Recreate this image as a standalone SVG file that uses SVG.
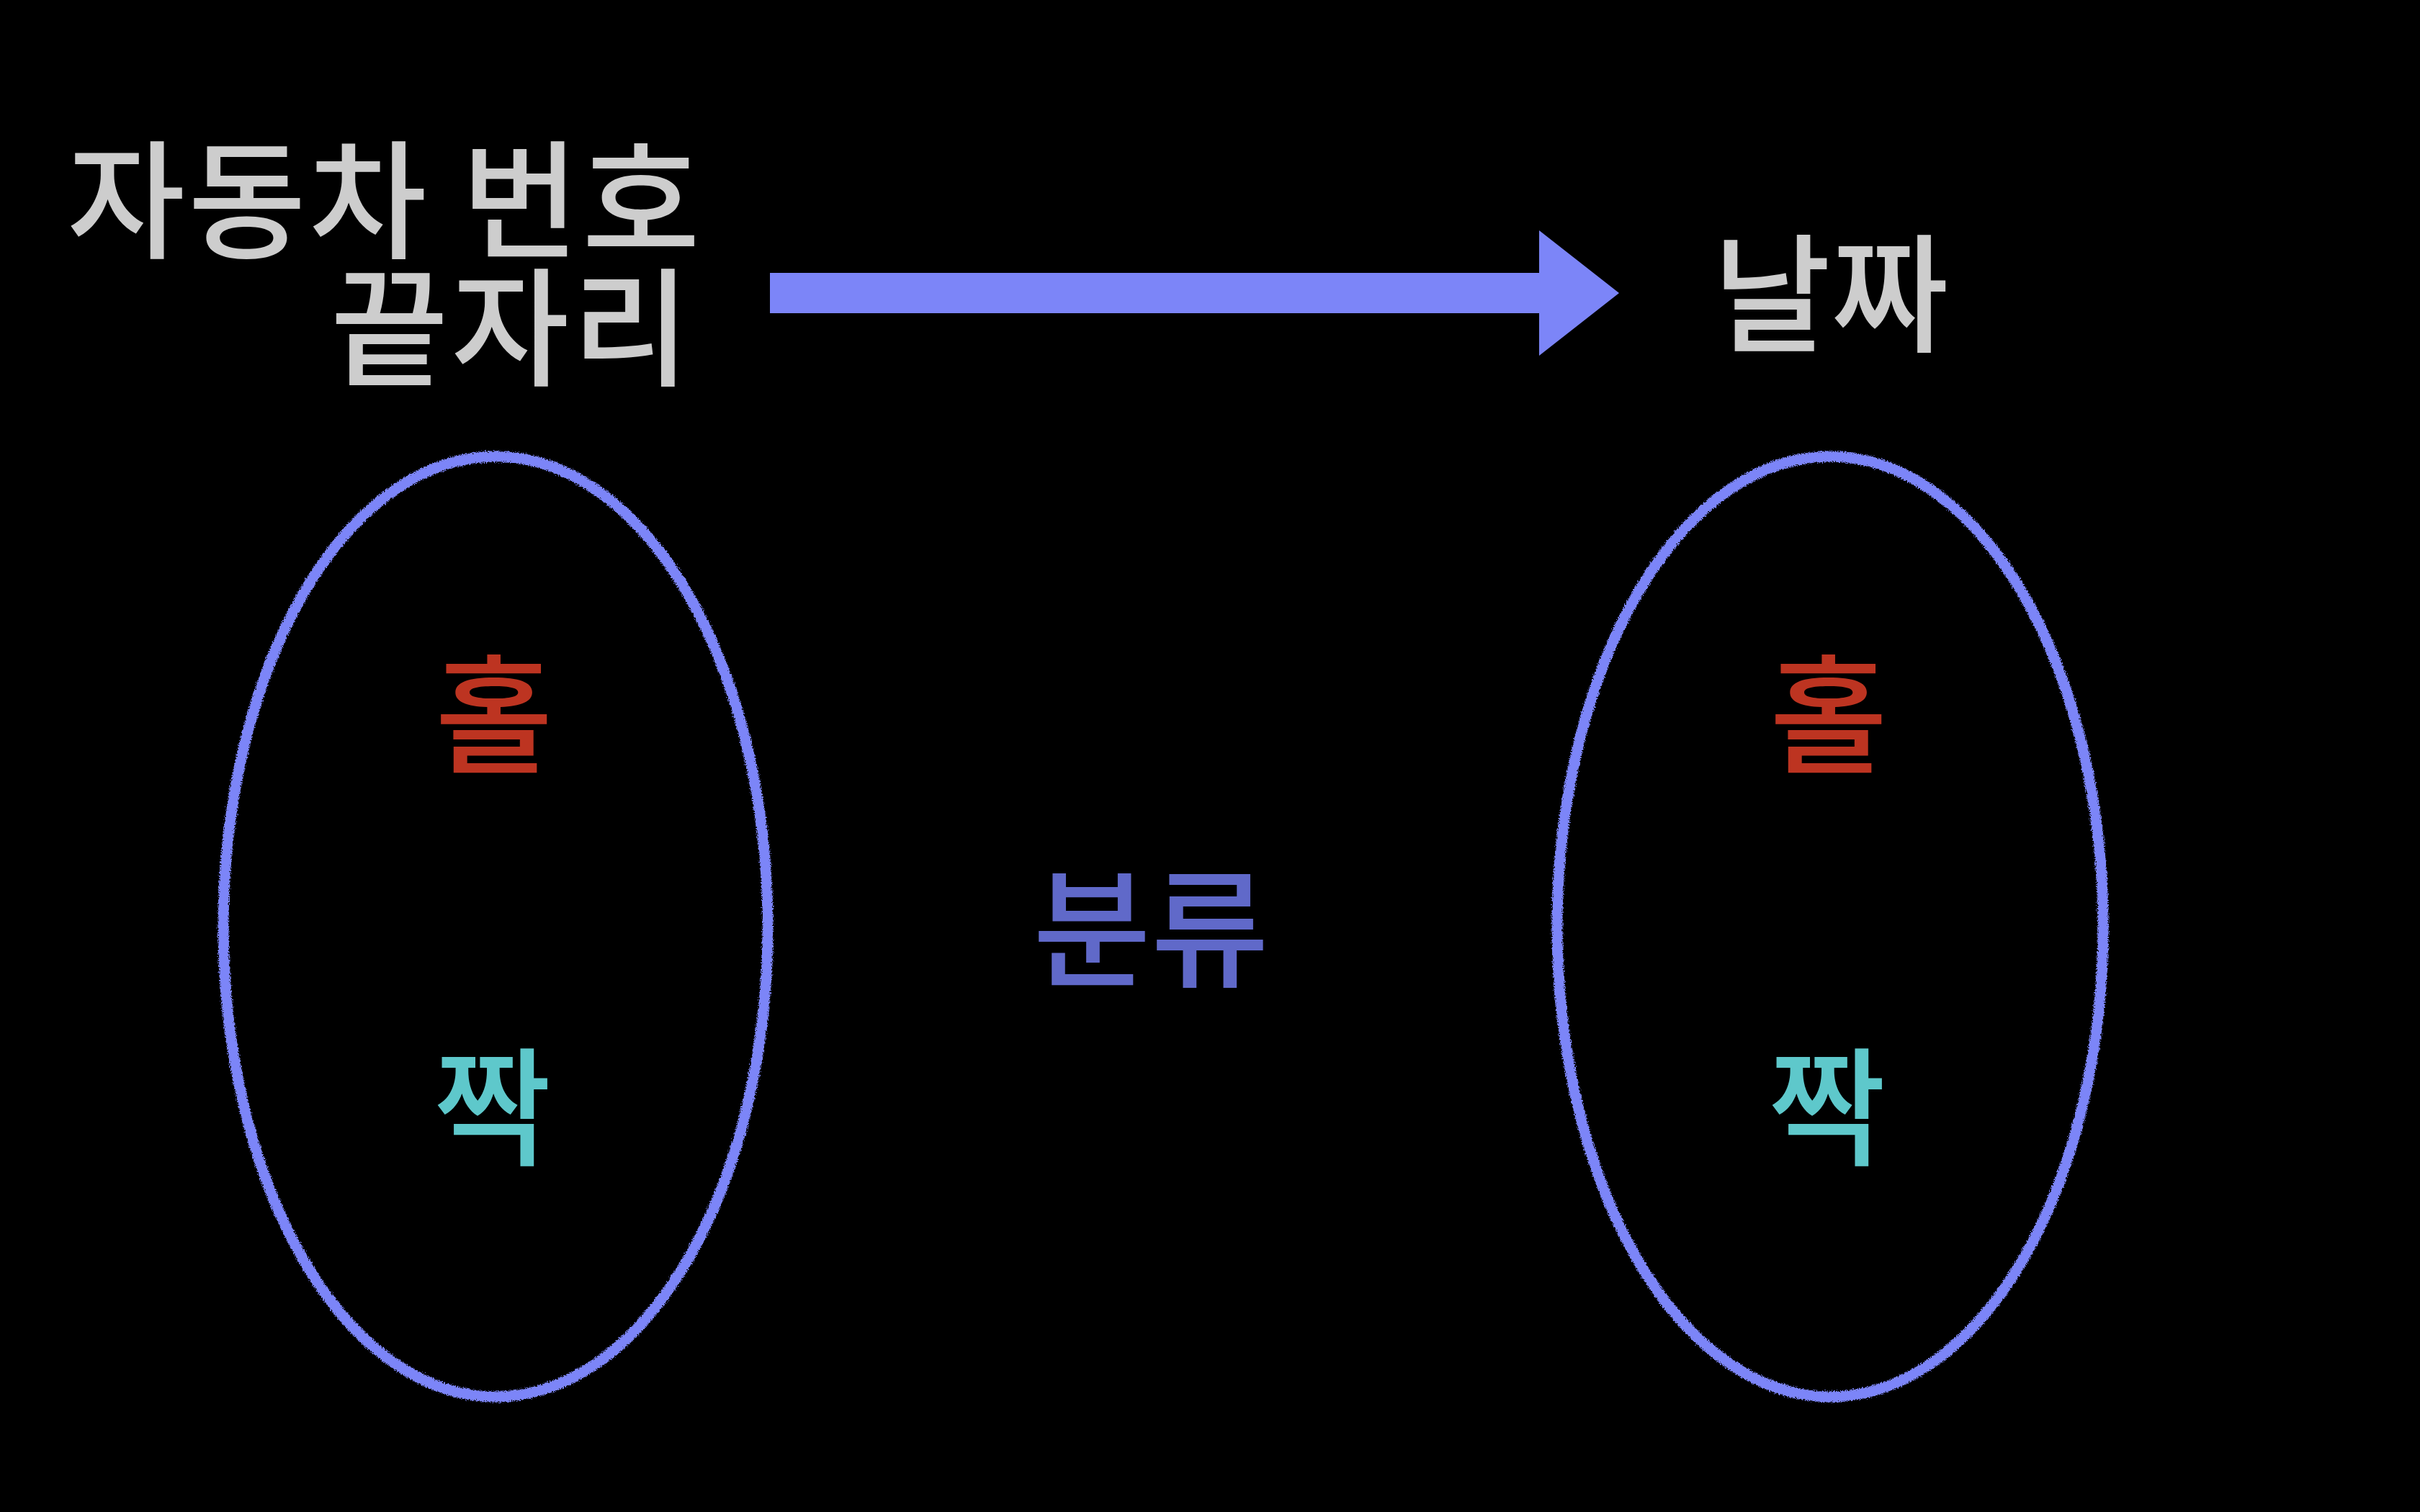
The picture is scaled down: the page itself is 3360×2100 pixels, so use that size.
<svg xmlns="http://www.w3.org/2000/svg" width="3360" height="2100" viewBox="0 0 3360 2100">
  <defs>
    <style>
      .t { font-family: "Noto Sans CJK KR", "Noto Sans", sans-serif; font-size: 178px; font-weight: 500; }
      .title { letter-spacing: 4px; }
      .grey { fill: #cdcdcd; }
      .odd { fill: #bd3421; }
      .even { fill: #5ec8cb; }
      .cls { fill: #6069c9; }
      .ring { fill: none; stroke: #7c85f8; stroke-width: 15; filter: url(#chalk); }
      .arrow { fill: #7c85f8; }
    </style>
    <filter id="chalk" x="-5%" y="-5%" width="110%" height="110%">
      <feTurbulence type="fractalNoise" baseFrequency="0.6" numOctaves="2" seed="3" result="n"/>
      <feDisplacementMap in="SourceGraphic" in2="n" scale="7" xChannelSelector="R" yChannelSelector="G"/>
    </filter>
  </defs>
  <rect width="3360" height="2100" fill="#000000"/>

  <g id="connectors">
    <polygon class="arrow" points="1069,379 2137,379 2137,320 2248,407 2137,494 2137,435 1069,435"/>
  </g>

  <g id="source">
    <text class="t title grey" x="976" y="345" text-anchor="end">자동차 번호</text>
    <text class="t title grey" x="962" y="522" text-anchor="end">끝자리</text>
  </g>

  <g id="target">
    <text class="t grey" x="2542" y="475" text-anchor="middle">날짜</text>
  </g>

  <g id="left-set">
    <ellipse class="ring" cx="688" cy="1287" rx="378" ry="653"/>
    <text class="t odd" x="686" y="1060" text-anchor="middle">홀</text>
    <text class="t even" x="684" y="1605" text-anchor="middle">짝</text>
  </g>

  <g id="right-set">
    <ellipse class="ring" cx="2541" cy="1287" rx="379" ry="653"/>
    <text class="t odd" x="2539" y="1060" text-anchor="middle">홀</text>
    <text class="t even" x="2537" y="1605" text-anchor="middle">짝</text>
  </g>

  <g id="label">
    <text class="t cls" x="1598" y="1357" text-anchor="middle">분류</text>
  </g>
</svg>
